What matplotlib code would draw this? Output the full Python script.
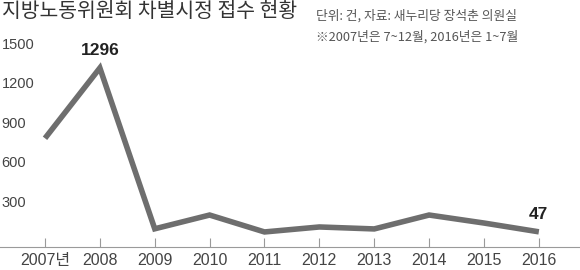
import matplotlib
matplotlib.use("Agg")
import matplotlib.pyplot as plt
from matplotlib import font_manager

# 데이터
years = [2007, 2008, 2009, 2010, 2011, 2012, 2013, 2014, 2015, 2016]
counts = [760, 1296, 70, 175, 46, 84, 69, 175, 114, 47]
xlabels = ["2007년", "2008", "2009", "2010", "2011", "2012", "2013", "2014", "2015", "2016"]
yticks = [300, 600, 900, 1200, 1500]

names = {f.name for f in font_manager.fontManager.ttflist}
narrow = "Liberation Sans Narrow" if "Liberation Sans Narrow" in names else "Liberation Sans"
kr = "Noto Sans CJK KR"

fig = plt.figure(figsize=(5.8, 2.7), dpi=100)
ax = fig.add_axes([0, 0, 1, 1])
ax.set_xlim(2006.18, 2016.75)
ax.set_ylim(-244, 1814)
ax.axis("off")

# 선
ax.plot(years, counts, color="#6e6e6e", lw=4, solid_joinstyle="miter", solid_capstyle="butt")

# 기준선과 눈금
ax.axhline(-69, color="#9a9a9a", lw=0.8)
ax.vlines(years, -69, 0, color="#9a9a9a", lw=0.8)

for x, lab in zip(years, xlabels):
    ax.text(x, -175, lab, ha="center", va="center", fontsize=11.5,
            family=[narrow, kr], color="#444444")

for v in yticks:
    ax.text(2006.21, v - 30, str(v), ha="left", va="center", fontsize=10.5,
            family=[narrow, kr], color="#444444")

# 값 표시
ax.text(years[1], counts[1] + 75, str(counts[1]), ha="center", va="bottom",
        fontsize=12.5, fontweight="bold", family=[narrow, kr], color="#222222")
ax.text(years[-1], counts[-1] + 75, str(counts[-1]), ha="center", va="bottom",
        fontsize=12.5, fontweight="bold", family=[narrow, kr], color="#222222")

# 제목
fig.text(0.003, 0.958, "지방노동위원회 차별시정 접수 현황", ha="left", va="center",
         fontsize=14.7, fontweight="medium", family=[kr], color="#333333")
fig.text(0.545, 0.942, "단위: 건, 자료: 새누리당 장석춘 의원실", ha="left", va="center",
         fontsize=9.2, family=[kr, "DejaVu Sans"], color="#555555")
fig.text(0.545, 0.862, "※2007년은 7~12월, 2016년은 1~7월", ha="left", va="center",
         fontsize=9.2, family=[kr, "DejaVu Sans"], color="#555555")

fig.savefig("out.png", dpi=100)
